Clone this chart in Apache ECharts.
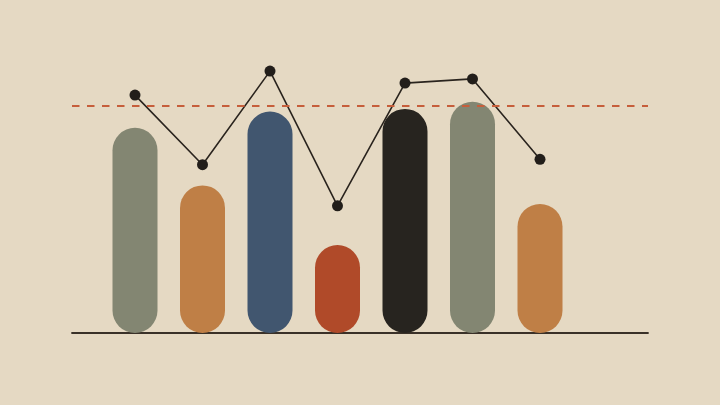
<!DOCTYPE html>
<html><head><meta charset="utf-8">
<script src="https://cdn.jsdelivr.net/npm/echarts@6/dist/echarts.min.js"></script>
<style>html,body{margin:0;padding:0;background:#E5D9C3;}#c{width:720px;height:405px;}</style>
</head><body><div id="c"></div>
<script>
const categories = ['A','B','C','D','E','F','G'];
const barValues = [68.4, 49.2, 73.8, 29.3, 74.7, 77.1, 43.0];
const lineValues = [79.3, 56.1, 87.3, 42.4, 83.3, 84.7, 57.9];
const thresholdValue = 75.8;
const barColors = ['#838672','#BF7F46','#41566F','#B04A29','#27241F','#838672','#BF7F46'];

const chart = echarts.init(document.getElementById('c'));
chart.setOption({
  backgroundColor: '#E5D9C3',
  animation: false,
  grid: { left: 72, right: 72, top: 33, bottom: 72 },
  xAxis: {
    type: 'value', min: 1 - 63/67.5, max: 7 + 108/67.5,
    axisLine: { show: true, onZero: true, lineStyle: { color: '#3a3128', width: 1.8 } },
    axisTick: { show: false }, axisLabel: { show: false }, splitLine: { show: false }
  },
  yAxis: {
    type: 'value', min: 0, max: 100,
    axisLine: { show: false }, axisTick: { show: false }, axisLabel: { show: false }, splitLine: { show: false }
  },
  series: [
    {
      type: 'bar', barWidth: 45,
      data: barValues.map((v, i) => ({ name: categories[i], value: [i + 1, v], itemStyle: { color: barColors[i] } })),
      itemStyle: { borderRadius: 22.5 },
      z: 1,
      markLine: {
        silent: true, symbol: 'none', label: { show: false },
        lineStyle: { color: '#C65E3B', type: [7.5, 7.5], width: 2.2 },
        data: [{ yAxis: thresholdValue }]
      }
    },
    {
      type: 'line', data: lineValues.map((v, i) => [i + 1, v]),
      symbol: 'circle', symbolSize: 11,
      lineStyle: { color: '#2a241e', width: 1.6 },
      itemStyle: { color: '#221e1a' },
      z: 3
    }
  ]
});
</script></body></html>
